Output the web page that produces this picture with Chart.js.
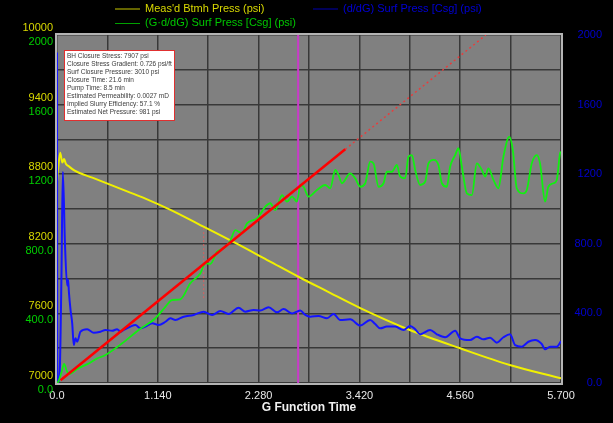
<!DOCTYPE html>
<html><head><meta charset="utf-8">
<script src="https://cdn.jsdelivr.net/npm/chart.js@4.4.0/dist/chart.umd.min.js"></script>
<style>html,body{margin:0;padding:0;background:#000;overflow:hidden}</style>
</head><body>
<canvas id="c" width="613" height="423"></canvas>
<script>
// ---- data ----
const gBHP = [0, 0.01, 0.036, 0.06, 0.08, 0.10, 0.13, 0.20, 0.40, 0.60, 0.80, 1.00, 1.29, 1.60, 1.99, 2.40, 2.73, 3.05, 3.43, 3.99, 4.56, 5.12, 5.70];
const vBHP = [8735, 8830, 8985, 8900, 8930, 8890, 8870, 8830, 8770, 8710, 8650, 8590, 8490, 8370, 8218, 8051, 7916, 7792, 7646, 7457, 7299, 7155, 7040];

const gGdP = [0,0.015,0.05,0.08,0.11,0.14,0.18,0.21,0.35,0.45,0.548,0.737,0.924,1.113,1.226,1.302,1.395,1.508,1.621,1.678,1.734,1.810,1.885,1.960,2.017,2.093,2.149,2.262,2.356,2.412,2.469,2.545,2.601,2.658,2.714,2.751,2.789,2.845,2.940,3.034,3.090,3.147,3.184,3.223,3.316,3.373,3.429,3.486,3.542,3.580,3.636,3.693,3.731,3.788,3.844,3.881,3.938,3.975,4.014,4.051,4.107,4.164,4.201,4.258,4.314,4.353,4.409,4.446,4.503,4.540,4.579,4.635,4.692,4.748,4.805,4.842,4.879,4.936,4.992,5.049,5.116,5.155,5.200,5.275,5.313,5.369,5.426,5.463,5.520,5.557,5.614,5.652,5.689,5.700];
const vGdP = [0,8,60,110,70,52,62,75,110,140,161,228,305,372,438,477,481,573,630,688,684,755,774,818,879,860,918,946,1013,1033,994,1080,1042,1071,1042,1138,1128,1071,1109,1138,1119,1224,1195,1148,1205,1176,1128,1148,1272,1262,1128,1148,1214,1214,1253,1186,1176,1301,1310,1224,1138,1157,1262,1282,1253,1148,1128,1243,1310,1349,1243,1090,1080,1262,1224,1186,1234,1167,1119,1301,1416,1339,1119,1090,1109,1262,1310,1262,1042,1128,1148,1167,1320,1330];

const gDer = [0,0.003,0.03,0.05,0.066,0.09,0.115,0.125,0.135,0.153,0.172,0.19,0.209,0.228,0.266,0.341,0.416,0.492,0.548,0.624,0.680,0.718,0.755,0.831,0.887,0.944,1.000,1.076,1.150,1.226,1.282,1.339,1.433,1.546,1.659,1.754,1.847,1.941,2.054,2.130,2.224,2.299,2.393,2.488,2.563,2.658,2.714,2.751,2.808,2.864,2.958,3.053,3.128,3.203,3.316,3.429,3.542,3.599,3.655,3.731,3.825,3.919,3.994,4.051,4.107,4.220,4.296,4.390,4.503,4.559,4.672,4.748,4.823,4.898,4.974,5.049,5.124,5.181,5.257,5.331,5.407,5.482,5.520,5.576,5.652,5.700];
const vDer = [1900,0,60,600,1214,800,560,595,520,420,343,218,257,237,295,309,289,295,305,300,309,295,305,324,333,314,324,343,333,352,372,362,381,391,410,391,414,397,433,410,420,416,435,406,425,400,410,416,391,381,385,372,397,362,366,330,362,339,314,324,324,305,328,309,280,305,280,263,301,257,247,266,251,260,232,263,280,218,209,237,247,224,194,209,209,240];

const gTangent = [0.04, 3.26];
const vTangent = [16, 1343];
const gTangentExt = [3.26, 4.85];
const vTangentExt = [1343, 2000];
const gMarkV = [1.659, 1.659];
const vMarkV = [488, 890];
const gClosure = [2.727, 2.727];
const vClosure = [0, 2000];

const xTicks = [0,0.57,1.14,1.71,2.28,2.85,3.42,3.99,4.56,5.13,5.70];
const xTickLabels = ['0.0','','1.140','','2.280','','3.420','','4.560','','5.700'];
const bhpTicks = [7000,7300,7600,7900,8200,8500,8800,9100,9400,9700,10000];
const bhpTickLabels = ['7000','','7600','','8200','','8800','','9400','','10000'];
const psiTicks = [0,200,400,600,800,1000,1200,1400,1600,1800,2000];
const psiTickLabels = ['0.0','','400.0','','800.0','','1200','','1600','','2000'];

const legendItems = [
  {text:"Meas'd Btmh Press (psi)", line:'#c8c800', color:'#d8d800'},
  {text:"(d/dG) Surf Press [Csg] (psi)", line:'#0000b0', color:'#0000d8'},
  {text:"(G\u00B7d/dG) Surf Press [Csg] (psi)", line:'#00a000', color:'#00c800'}
];
const noteLines = [
  'BH Closure Stress: 7907 psi',
  'Closure Stress Gradient: 0.726 psi/ft',
  'Surf Closure Pressure: 3010 psi',
  'Closure Time: 21.6 min',
  'Pump Time: 8.5 min',
  'Estimated Permeability: 0.0027 mD',
  'Implied Slurry Efficiency: 57.1 %',
  'Estimated Net Pressure: 981 psi'
];

const pts = (xs, ys) => xs.map((x, i) => ({x, y: ys[i]}));
const FONT = "'Liberation Sans', Arial, sans-serif";

const decor = {
  id: 'decor',
  beforeDraw(chart) {
    const {ctx, chartArea: a} = chart;
    ctx.save();
    ctx.fillStyle = '#000';
    ctx.fillRect(0, 0, chart.width, chart.height);
    ctx.fillStyle = '#808080';
    ctx.fillRect(a.left, a.top, a.right - a.left, a.bottom - a.top);
    ctx.restore();
  },
  beforeDatasetsDraw(chart) {
    const {ctx, chartArea: a} = chart;
    ctx.save();
    ctx.strokeStyle = '#b4b4b4';
    ctx.lineWidth = 2;
    ctx.strokeRect(a.left - 1, a.top - 1, a.right - a.left + 2, a.bottom - a.top + 2);
    ctx.restore();
  },
  afterDatasetsDraw(chart) {
    const {ctx} = chart;
    ctx.save();
    // annotation box
    ctx.fillStyle = '#ffffff';
    ctx.fillRect(64, 50, 110, 70);
    ctx.strokeStyle = '#e03030';
    ctx.lineWidth = 1;
    ctx.strokeRect(64.5, 50.5, 110, 70);
    ctx.fillStyle = '#3a3a3a';
    ctx.font = '6.5px ' + FONT;
    ctx.textBaseline = 'middle';
    ctx.textAlign = 'left';
    noteLines.forEach((t, i) => ctx.fillText(t, 67, 56 + i * 8.1));
    // legend
    ctx.font = '11px ' + FONT;
    const pos = [[115, 8.5], [313, 8.5], [115, 23]];
    legendItems.forEach((it, i) => {
      const [lx, ly] = pos[i];
      ctx.strokeStyle = it.line;
      ctx.lineWidth = 1;
      ctx.beginPath();
      ctx.moveTo(lx, ly + 0.5);
      ctx.lineTo(lx + 25, ly + 0.5);
      ctx.stroke();
      ctx.fillStyle = it.color;
      ctx.fillText(it.text, lx + 30, ly);
    });
    // green (G·d/dG) axis labels, placed through its scale
    const sG = chart.scales.yG;
    ctx.font = '11px ' + FONT;
    ctx.fillStyle = '#00d000';
    ctx.textAlign = 'right';
    psiTicks.forEach((v, i) => {
      if (psiTickLabels[i]) ctx.fillText(psiTickLabels[i], chart.chartArea.left - 4, sG.getPixelForValue(v) + 7);
    });
    ctx.restore();
  }
};

new Chart(document.getElementById('c'), {
  type: 'line',
  data: {
    datasets: [
      {label: 'closure', data: pts(gClosure, vClosure), yAxisID: 'yG', borderColor: '#c83cc8', borderWidth: 2, pointRadius: 0, order: 9},
      {label: 'markV', data: pts(gMarkV, vMarkV), yAxisID: 'yG', borderColor: '#d86060', borderWidth: 1, borderDash: [2, 2], pointRadius: 0, order: 8},
      {label: 'tangentExt', data: pts(gTangentExt, vTangentExt), yAxisID: 'yG', borderColor: '#e83c3c', borderWidth: 1.5, borderDash: [2, 3], pointRadius: 0, order: 7},
      {label: "Meas'd Btmh Press (psi)", data: pts(gBHP, vBHP), yAxisID: 'yBHP', borderColor: '#f0f000', borderWidth: 2, pointRadius: 0, cubicInterpolationMode: 'monotone', order: 5},
      {label: '(d/dG) Surf Press [Csg] (psi)', data: pts(gDer, vDer), yAxisID: 'yDer', borderColor: '#1414ff', borderWidth: 2, pointRadius: 0, cubicInterpolationMode: 'monotone', order: 4},
      {label: '(G\u00B7d/dG) Surf Press [Csg] (psi)', data: pts(gGdP, vGdP), yAxisID: 'yG', borderColor: '#10f010', borderWidth: 1.8, pointRadius: 0, cubicInterpolationMode: 'monotone', order: 3},
      {label: 'tangent', data: pts(gTangent, vTangent), yAxisID: 'yG', borderColor: '#ff0000', borderWidth: 2.5, pointRadius: 0, order: 1}
    ]
  },
  options: {
    responsive: false,
    animation: false,
    devicePixelRatio: 1,
    layout: {padding: {top: 35, right: 11, bottom: 0, left: 0}},
    plugins: {legend: {display: false}, tooltip: {enabled: false}},
    scales: {
      x: {
        type: 'linear', min: 0, max: 5.7,
        afterBuildTicks: s => { s.ticks = xTicks.map(v => ({value: v})); },
        afterFit: s => { s.height = 40; },
        grid: {color: '#383838', lineWidth: 1.5, drawTicks: false},
        border: {display: false},
        ticks: {autoSkip: false, maxRotation: 0, padding: 6, color: '#e8e8e8', font: {family: FONT, size: 11},
          callback: (v, i) => xTickLabels[i]},
        title: {display: true, text: 'G Function Time', color: '#f0f0f0', font: {family: FONT, size: 12, weight: 'bold'}, padding: {top: 0, bottom: 8}}
      },
      yBHP: {
        position: 'left', min: 7000, max: 10000,
        afterBuildTicks: s => { s.ticks = bhpTicks.map(v => ({value: v})); },
        afterFit: s => { s.width = 57; },
        grid: {display: false, drawTicks: false},
        border: {display: false},
        ticks: {autoSkip: false, padding: 4, labelOffset: -7, color: '#d8d800', font: {family: FONT, size: 11},
          callback: (v, i) => bhpTickLabels[i]}
      },
      yG: {
        display: false, position: 'left', min: 0, max: 2000
      },
      yDer: {
        position: 'right', min: 0, max: 2000,
        afterBuildTicks: s => { s.ticks = psiTicks.map(v => ({value: v})); },
        afterFit: s => { s.width = 41; },
        grid: {color: '#383838', lineWidth: 1.5, drawTicks: false},
        border: {display: false},
        ticks: {autoSkip: false, padding: 12, crossAlign: 'far', color: '#0000d0', font: {family: FONT, size: 11},
          callback: (v, i) => psiTickLabels[i]}
      }
    }
  },
  plugins: [decor]
});
</script>
</body></html>
